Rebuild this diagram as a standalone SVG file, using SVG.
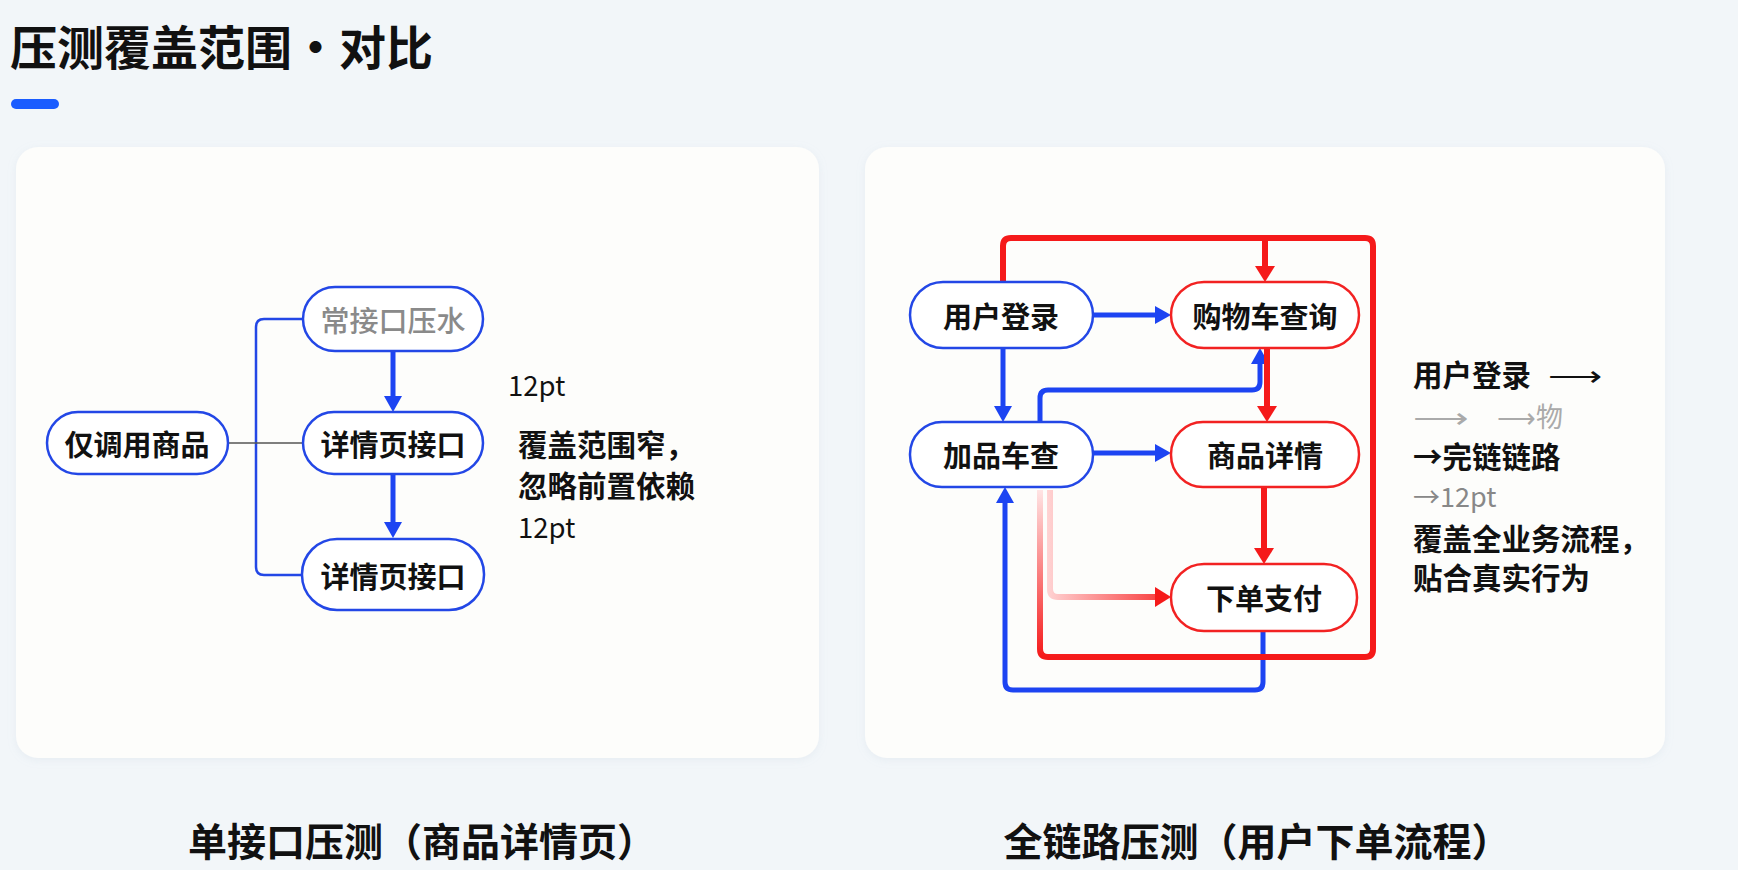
<svg xmlns="http://www.w3.org/2000/svg" width="1738" height="870" viewBox="0 0 1738 870">
<style>
.t{font-family:"Noto Sans CJK SC","Noto Sans",sans-serif;fill:#111}
.node rect{fill:#fff;stroke-width:2.5}
.nb rect{stroke:#2347e6}
.nr rect{stroke:#f22222}
.nt{font-size:29px;font-weight:700;text-anchor:middle;dominant-baseline:central}
.side{font-size:29.5px;font-weight:700}
.bl{fill:none;stroke:#1d44f2;stroke-width:5;stroke-linecap:butt;stroke-linejoin:round}
.rd{fill:none;stroke:#f51a1a;stroke-width:6;stroke-linejoin:round}
</style>
<defs>
<marker id="ab" markerUnits="userSpaceOnUse" markerWidth="20" markerHeight="20" refX="4" refY="9" orient="auto"><path d="M0,0 L16,9 L0,18 z" fill="#1d44f2"/></marker>
<marker id="ar" markerUnits="userSpaceOnUse" markerWidth="22" markerHeight="22" refX="4" refY="10" orient="auto"><path d="M0,0 L16,10 L0,20 z" fill="#f51a1a"/></marker>
<linearGradient id="gPale" gradientUnits="userSpaceOnUse" x1="1045" y1="0" x2="1165" y2="0"><stop offset="0" stop-color="#ffd6d6"/><stop offset="1" stop-color="#f83a3a"/></linearGradient>
<linearGradient id="gLoop" gradientUnits="userSpaceOnUse" x1="1040" y1="490" x2="1040" y2="657"><stop offset="0" stop-color="#ffe4e4"/><stop offset="1" stop-color="#f51a1a"/></linearGradient>
<filter id="sh" x="-5%" y="-5%" width="110%" height="110%"><feDropShadow dx="0" dy="2" stdDeviation="4" flood-color="#9fb2c8" flood-opacity="0.15"/></filter>
</defs>
<rect width="1738" height="870" fill="#f2f6f9"/>
<g id="header">
<text class="t" x="10" y="65" font-size="47" font-weight="700">压测覆盖范围・对比</text>
<rect x="11" y="99" width="48" height="10" rx="5" fill="#1a5cff"/>
</g>
<g id="panels">
<rect x="16" y="147" width="803" height="611" rx="22" fill="#fdfdfb" filter="url(#sh)"/>
<rect x="865" y="147" width="800" height="611" rx="22" fill="#fdfdfb" filter="url(#sh)"/>
</g>
<g id="connectors">
<path d="M303,319 H264 Q256,319 256,327 V567 Q256,575 264,575 H301" fill="none" stroke="#2347e6" stroke-width="2.5"/>
<path d="M228,443 H303" stroke="#555" stroke-width="1.5"/>
<path class="bl" d="M393,351 V400" stroke-width="4" marker-end="url(#ab)"/>
<path class="bl" d="M393,474 V526" stroke-width="4" marker-end="url(#ab)"/>
<path class="bl" d="M1093,315 H1159" marker-end="url(#ab)"/>
<path class="bl" d="M1003,348 V410" marker-end="url(#ab)"/>
<path class="bl" d="M1093,453 H1159" marker-end="url(#ab)"/>
<path class="bl" d="M1040,422 V398 Q1040,390 1048,390 H1252 Q1260,390 1260,382 V360" marker-end="url(#ab)"/>
<path class="bl" d="M1263,631 V682 Q1263,690 1255,690 H1013 Q1005,690 1005,682 V499" marker-end="url(#ab)"/>
<path class="rd" d="M1003,282 V246 Q1003,238 1011,238 H1365 Q1373,238 1373,246 V649 Q1373,657 1365,657 H1095"/>
<path d="M1100,657 H1048 Q1040,657 1040,649 V490" fill="none" stroke="url(#gLoop)" stroke-width="6" stroke-linejoin="round"/>
<path d="M1050,490 V589 Q1050,597 1058,597 H1159" fill="none" stroke="url(#gPale)" stroke-width="6" stroke-linejoin="round" marker-end="url(#ar)"/>
<path class="rd" d="M1265,238 V270" marker-end="url(#ar)"/>
<path class="rd" d="M1267,348 V410" marker-end="url(#ar)"/>
<path class="rd" d="M1264,487 V552" marker-end="url(#ar)"/>
</g>
<g id="n-only" class="node nb"><rect x="47" y="412" width="181" height="62" rx="31"/><text class="t nt" x="137" y="443">仅调用商品</text></g>
<g id="n-single" class="node nb"><rect x="303" y="287" width="180" height="64" rx="32"/><text class="t nt" x="393" y="319" style="fill:#8a8a8a;font-weight:500">常接口压水</text></g>
<g id="n-detail1" class="node nb"><rect x="303" y="412" width="180" height="62" rx="31"/><text class="t nt" x="393" y="443">详情页接口</text></g>
<g id="n-detail2" class="node nb"><rect x="302" y="539" width="182" height="71" rx="35"/><text class="t nt" x="393" y="575">详情页接口</text></g>
<g id="left-notes">
<text class="t" x="508" y="396" font-size="27.5">12pt</text>
<text class="t side" x="518" y="456">覆盖范围窄，</text>
<text class="t side" x="518" y="497">忽略前置依赖</text>
<text class="t" x="518" y="538" font-size="27.5">12pt</text>
</g>
<g id="n-login" class="node nb"><rect x="910" y="282" width="183" height="66" rx="33"/><text class="t nt" x="1001" y="315">用户登录</text></g>
<g id="n-cart" class="node nr"><rect x="1171" y="282" width="188" height="66" rx="33"/><text class="t nt" x="1265" y="315">购物车查询</text></g>
<g id="n-add" class="node nb"><rect x="910" y="422" width="183" height="65" rx="32"/><text class="t nt" x="1001" y="454">加品车查</text></g>
<g id="n-goods" class="node nr"><rect x="1171" y="422" width="188" height="65" rx="32"/><text class="t nt" x="1265" y="454">商品详情</text></g>
<g id="n-pay" class="node nr"><rect x="1171" y="564" width="186" height="67" rx="33"/><text class="t nt" x="1264" y="597">下单支付</text></g>
<g id="right-notes">
<text class="t side" x="1413" y="386">用户登录</text>
<text class="t" x="1548" y="386" font-size="28" textLength="54" lengthAdjust="spacingAndGlyphs">⟶</text>
<text class="t" x="1413" y="427" font-size="27" style="fill:#aaa" textLength="56" lengthAdjust="spacingAndGlyphs">⟶</text>
<text class="t" x="1497" y="427" font-size="27" style="fill:#aaa">⟶物</text>
<text class="t side" x="1413" y="468">→完链链路</text>
<text class="t" x="1413" y="507" font-size="27" style="fill:#888">→12pt</text>
<text class="t side" x="1413" y="550">覆盖全业务流程，</text>
<text class="t side" x="1413" y="589">贴合真实行为</text>
</g>
<g id="captions">
<text class="t" x="422" y="856" font-size="39" font-weight="700" text-anchor="middle">单接口压测（商品详情页）</text>
<text class="t" x="1257" y="856" font-size="39" font-weight="700" text-anchor="middle">全链路压测（用户下单流程）</text>
</g>
</svg>
